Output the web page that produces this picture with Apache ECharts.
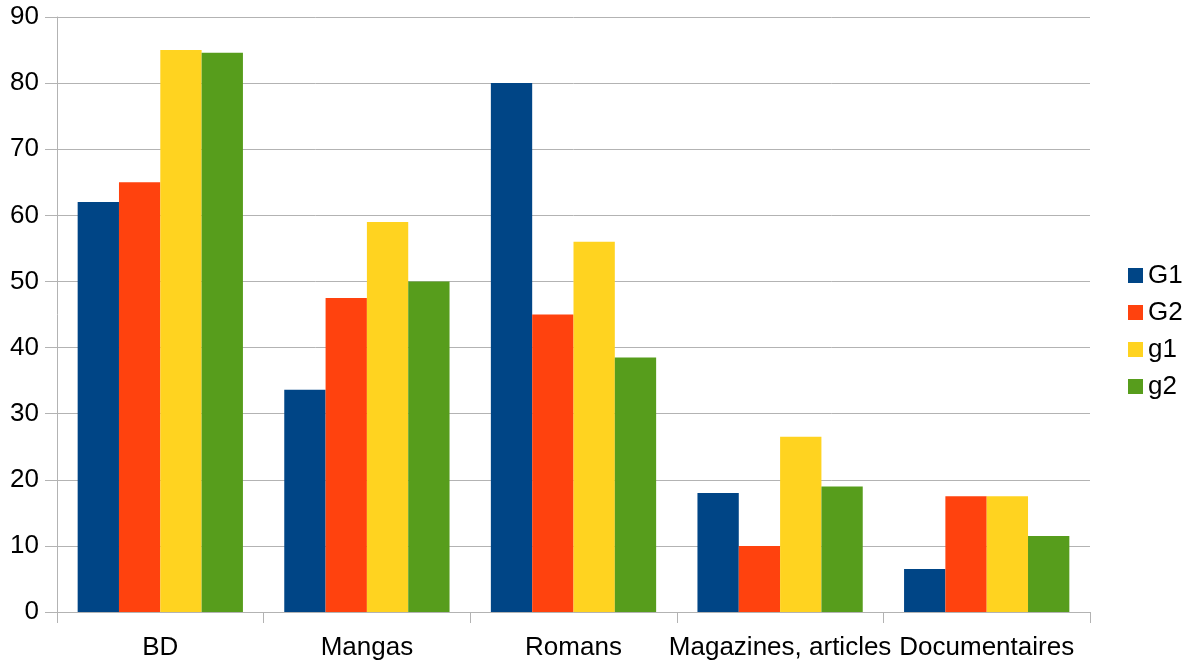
<!DOCTYPE html>
<html>
<head>
<meta charset="utf-8">
<script src="https://cdn.jsdelivr.net/npm/echarts@6/dist/echarts.min.js"></script>
<style>
html,body{margin:0;padding:0;background:#fff;}
#chart{width:1191px;height:662px;}
</style>
</head>
<body>
<div id="chart"></div>
<script>
const categories = ["BD", "Mangas", "Romans", "Magazines, articles", "Documentaires"];
const seriesNames = ["G1", "G2", "g1", "g2"];
const G1 = [62, 33.6, 80, 18, 6.5];
const G2 = [65, 47.5, 45, 10, 17.5];
const g1 = [85, 59, 56, 26.5, 17.5];
const g2 = [84.6, 50, 38.5, 19, 11.5];
const colors = ["#004586", "#ff420e", "#ffd320", "#579d1c"];
const seriesValues = [G1, G2, g1, g2];

const chart = echarts.init(document.getElementById('chart'), null, {renderer: 'canvas'});
const font = 'Liberation Sans, Arial, sans-serif';
chart.setOption({
  animation: false,
  color: colors,
  textStyle: {fontFamily: font},
  grid: {left: 57, right: 101, top: 17, bottom: 50, containLabel: false},
  legend: {
    orient: 'vertical',
    left: 1123,
    top: 'middle',
    itemWidth: 15,
    itemHeight: 15,
    itemGap: 11,
    icon: 'rect',
    textStyle: {fontSize: 26, color: '#000', fontFamily: font},
    data: seriesNames
  },
  xAxis: {
    type: 'category',
    data: categories,
    axisLine: {show: true, lineStyle: {color: '#b3b3b3', width: 1}},
    axisTick: {show: true, length: 11, lineStyle: {color: '#b3b3b3'}},
    axisLabel: {fontSize: 26, color: '#000', margin: 23, fontFamily: font, interval: 0},
    splitLine: {show: false}
  },
  yAxis: {
    type: 'value',
    min: 0, max: 90, interval: 10,
    axisLine: {show: true, lineStyle: {color: '#b3b3b3', width: 1}},
    axisTick: {show: true, length: 12, lineStyle: {color: '#b3b3b3'}},
    axisLabel: {fontSize: 26, color: '#000', margin: 18, fontFamily: font},
    splitLine: {show: true, lineStyle: {color: '#b3b3b3', width: 1}}
  },
  series: seriesNames.map((n, i) => ({
    name: n,
    type: 'bar',
    data: seriesValues[i],
    barGap: '0%',
    barCategoryGap: '20%',
    itemStyle: {color: colors[i]}
  }))
});
</script>
</body>
</html>
